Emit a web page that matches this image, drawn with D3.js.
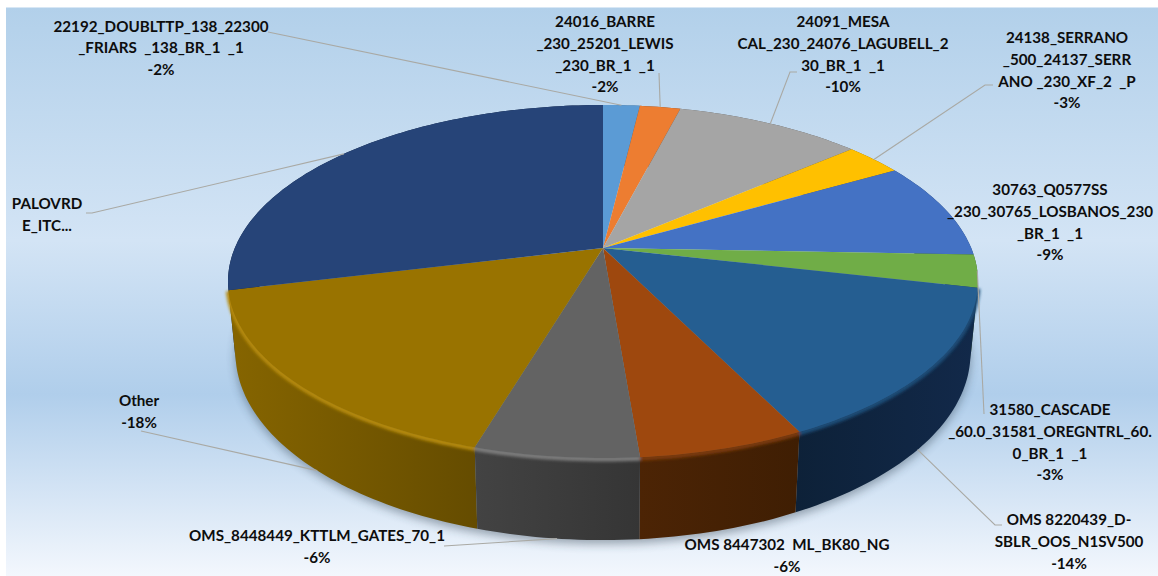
<!DOCTYPE html>
<html><head><meta charset="utf-8">
<script src="https://cdn.jsdelivr.net/npm/d3@7/dist/d3.min.js"></script>
<style>html,body{margin:0;padding:0;background:#fff}svg{display:block}
text{font-family:Lato,"Open Sans",sans-serif;font-weight:700;fill:#0d0d0d;white-space:pre}</style>
</head><body><div id="c"></div>
<script>
// ---- data ----
const categories = ["22192_DOUBLTTP","24016_BARRE","24091_MESA CAL","24138_SERRANO","30763_Q0577SS","31580_CASCADE","OMS 8220439","OMS 8447302","OMS_8448449","Other","PALOVRDE_ITC"];
const shares = [1.9, 2.1, 9.7, 3.0, 8.9, 3.0, 14.1, 6.0, 5.9, 16.6, 28.8];
const labelLines = [
  ["22192_DOUBLTTP_138_22300","_FRIARS  _138_BR_1  _1","-2%"],
  ["24016_BARRE","_230_25201_LEWIS","_230_BR_1  _1","-2%"],
  ["24091_MESA","CAL_230_24076_LAGUBELL_2","30_BR_1  _1","-10%"],
  ["24138_SERRANO","_500_24137_SERR","ANO _230_XF_2  _P","-3%"],
  ["30763_Q0577SS","_230_30765_LOSBANOS_230","_BR_1  _1","-9%"],
  ["31580_CASCADE","_60.0_31581_OREGNTRL_60.","0_BR_1  _1","-3%"],
  ["OMS 8220439_D-","SBLR_OOS_N1SV500","-14%"],
  ["OMS 8447302  ML_BK80_NG","-6%"],
  ["OMS_8448449_KTTLM_GATES_70_1","-6%"],
  ["Other","-18%"],
  ["PALOVRD","E_ITC..."]
];
// ---- styles & layout ----
const topColors  = ["#5B9BD5","#ED7D31","#A5A5A5","#FFC000","#4472C4","#70AD47","#255E91","#9E480E","#636363","#997300","#264478"];
const sideStart  = ["#2f5f8c","#7a3f18","#555","#806000","#23406b","#3a5a25","#0d2138","#4c2405","#434343","#866500","#132340"];
const sideEnd    = ["#2f5f8c","#7a3f18","#555","#806000","#23406b","#3a5a25","#12294a","#3f1e03","#353535","#654c00","#132340"];
const rimColors  = ["#5B9BD5","#ED7D31","#A5A5A5","#FFC000","#4472C4","#70AD47","#1f4d78","#7c3a0c","#7d7d7d","#b58a0c","#264478"];
const labelPos = [[161,26.5],[605,22],[843,22],[1067,38],[1050,190],[1050,410],[1069,520],[787,545],[317,536],[139,401],[47,204]];
// leader: label-side points, then the fraction down the side wall where it meets the pie (null = no leader)
const leaderPts = [[[268,32]],[[659,73]],[[797,72],[790,72]],[[993,85],[985,85]],null,[[984,414]],[[1002,525],[995,525]],null,[[444,546]],[[141,431]],[[86,213],[92,213]]];
const leaderDepth = [0,0,0,0,0,0,1,0,1,1,0];
const leaderAngleShift = [0,0,0,0,0,0,0.03,0,0,-0.06,0];

const W=1158,H=576, lineH=21.6;
const px=603, py=248, topY=105, botY=458, halfW=375;
const sideCx=603, sideCy=353, sideRxK=0.98, sideRyK=1.06;
const upper=py-topY, lower=botY-py;
const k=(upper-lower)/(upper+lower), A=upper*(1-k), B=halfW*Math.sqrt(1-k*k);
const ecy=(topY+botY)/2;

function rim(t){ // t clockwise from 12 o'clock
  const X=Math.sin(t), Y=-Math.cos(t), w=1+k*Y;
  return [px+B*X/w, py+A*Y/w];
}
function rimLow(t){
  const p=rim(t);
  return [sideCx+(p[0]-px)*sideRxK, sideCy+(p[1]-ecy)*sideRyK];
}
const samples=(a,b)=>{const n=Math.max(2,Math.ceil((b-a)/0.02));return d3.range(n+1).map(i=>a+(b-a)*i/n);};

const svg=d3.select("#c").append("svg").attr("width",W).attr("height",H);
const defs=svg.append("defs");
const bg=defs.append("linearGradient").attr("id","bg").attr("x1",0).attr("x2",0).attr("y1",0).attr("y2",1);
[[0,"#B2D0EA"],[0.41,"#D3E4F5"],[0.68,"#B0CEEB"],[1,"#F3F7FD"]].forEach(s=>bg.append("stop").attr("offset",s[0]).attr("stop-color",s[1]));
defs.append("filter").attr("id","shadow").attr("x","-10%").attr("y","-10%").attr("width","120%").attr("height","120%").append("feGaussianBlur").attr("stdDeviation",5);
defs.append("filter").attr("id","soft").attr("x","-5%").attr("y","-5%").attr("width","110%").attr("height","110%").append("feGaussianBlur").attr("stdDeviation",1.6);
topColors.forEach((c,i)=>{
  const g=defs.append("linearGradient").attr("id","side"+i);
  g.append("stop").attr("offset",0).attr("stop-color",sideStart[i]);
  g.append("stop").attr("offset",1).attr("stop-color",sideEnd[i]);
});
svg.append("rect").attr("x",6).attr("y",7.5).attr("width",W-6).attr("height",H-7.5).attr("fill","url(#bg)");

const line=d3.line();
const arcs=d3.pie().sort(null).value(d=>d).startAngle(0).endAngle(2*Math.PI)(shares);

// drop shadow
svg.append("path").attr("filter","url(#shadow)").attr("fill","#20303f").attr("opacity",.4)
  .attr("transform","translate(0,4)")
  .attr("d",line(samples(1.2,5.1).map(rimLow))+"Z");

// side walls, back to front
const order=d3.range(arcs.length).sort((a,b)=>{
  const m=i=>Math.abs((arcs[i].startAngle+arcs[i].endAngle)/2-Math.PI);
  return m(b)-m(a);
});
svg.append("g").selectAll("path").data(order).join("path")
  .attr("fill",i=>`url(#side${i})`)
  .attr("d",i=>{
    const s=samples(arcs[i].startAngle,arcs[i].endAngle);
    return line(s.map(rim).concat(s.slice().reverse().map(rimLow)))+"Z";
  });
// rim highlight on the front-facing slices
svg.append("g").attr("filter","url(#soft)").attr("fill","none").attr("stroke-width",5)
  .selectAll("path").data(d3.range(6,10)).join("path")
  .attr("stroke",i=>rimColors[i])
  .attr("d",i=>line(samples(arcs[i].startAngle,arcs[i].endAngle).map(rim).map(p=>[p[0],p[1]+1])));
// top faces
svg.append("g").selectAll("path").data(arcs).join("path")
  .attr("fill",(d,i)=>topColors[i])
  .attr("d",d=>line([[px,py]].concat(samples(d.startAngle,d.endAngle).map(rim)))+"Z");

// leaders
svg.append("g").attr("fill","none").attr("stroke","#A9A9A4").attr("stroke-width",1.1)
  .selectAll("path").data(arcs.map((d,i)=>i).filter(i=>leaderPts[i])).join("path")
  .attr("d",i=>{
    const t=(arcs[i].startAngle+arcs[i].endAngle)/2+leaderAngleShift[i], a=rim(t), b=rimLow(t), f=leaderDepth[i];
    return line(leaderPts[i].concat([[a[0]+(b[0]-a[0])*f,a[1]+(b[1]-a[1])*f]]));
  });

// labels
const lab=svg.append("g").selectAll("text").data(labelLines).join("text")
  .attr("text-anchor","middle").attr("font-size",15.2);
lab.each(function(lines,i){
  d3.select(this).selectAll("tspan").data(lines).join("tspan")
    .attr("x",labelPos[i][0]).attr("y",(d,j)=>labelPos[i][1]+j*lineH+5.3).text(d=>d);
});
</script></body></html>
